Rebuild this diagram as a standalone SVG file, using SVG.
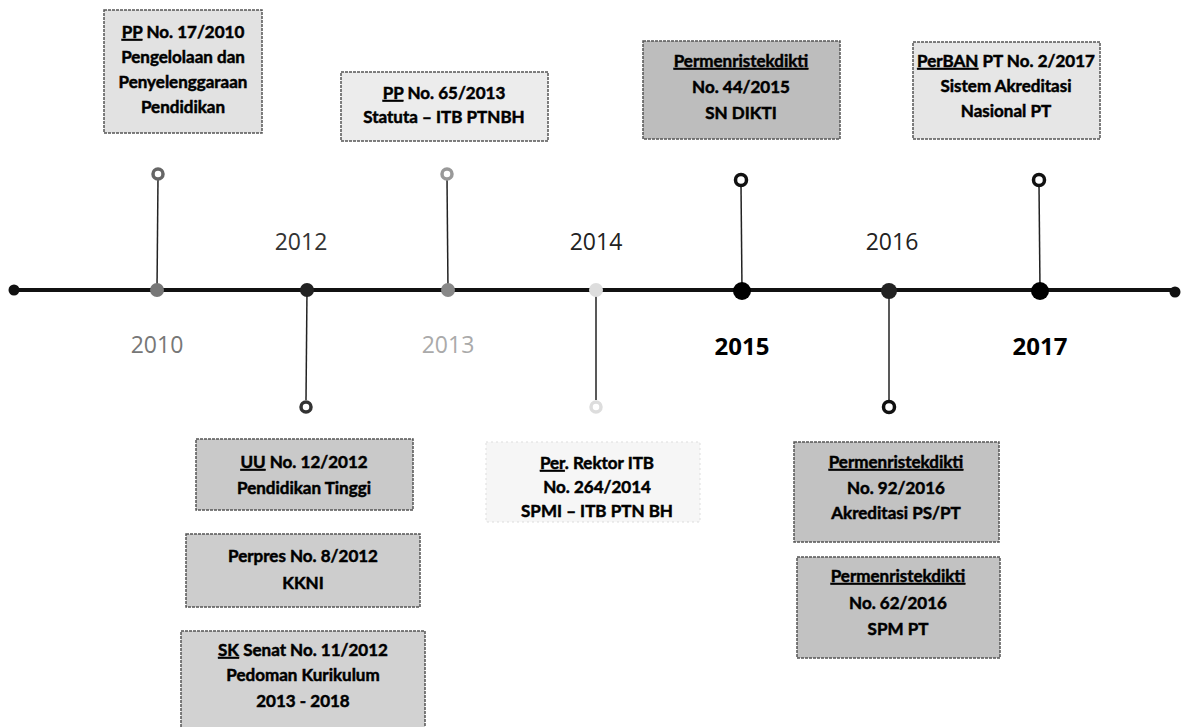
<svg xmlns="http://www.w3.org/2000/svg" width="1181" height="727" viewBox="0 0 1181 727">
<style>
.box{stroke:#555;stroke-width:1.5;stroke-dasharray:3 1}
.t{font-family:Lato,"Liberation Sans",sans-serif;font-weight:bold;font-size:17px;fill:#000;stroke:#000;stroke-width:0.5;text-anchor:middle}
.u{text-decoration:underline}
.yr{font-family:"Open Sans","DejaVu Sans",sans-serif;font-size:23px;text-anchor:middle}
.yb{font-family:"Open Sans","DejaVu Sans",sans-serif;font-weight:bold;font-size:24px;text-anchor:middle;fill:#000}
.stem{stroke:#222;stroke-width:1.5}
.ring{fill:#fff;stroke-width:3.5}
</style>
<rect width="1181" height="727" fill="#fff"/>
<g id="connectors">
<line x1="14" y1="290" x2="1175" y2="290" stroke="#111" stroke-width="4"/>
<circle cx="14" cy="290" r="5.5" fill="#111"/>
<circle cx="1175" cy="292" r="5.5" fill="#111"/>
<line class="stem" x1="157" y1="290" x2="158" y2="178"/>
<line class="stem" x1="448" y1="290" x2="447" y2="178"/>
<line class="stem" x1="742" y1="290" x2="741" y2="185"/>
<line class="stem" x1="1040" y1="290" x2="1039" y2="185"/>
<line class="stem" x1="307" y1="290" x2="306" y2="400"/>
<line class="stem" x1="596" y1="290" x2="596" y2="400" stroke="#444"/>
<line class="stem" x1="889" y1="290" x2="889" y2="400"/>
<circle cx="157" cy="290" r="7" fill="#777"/>
<circle cx="307" cy="290" r="7" fill="#222"/>
<circle cx="448" cy="290" r="7" fill="#888"/>
<circle cx="596" cy="290" r="7" fill="#ddd"/>
<circle cx="742" cy="291" r="9" fill="#000"/>
<circle cx="889" cy="291" r="8" fill="#222"/>
<circle cx="1040" cy="291" r="9" fill="#000"/>
<circle class="ring" cx="158" cy="174" r="5" stroke="#666"/>
<circle class="ring" cx="447" cy="174" r="5" stroke="#999"/>
<circle class="ring" cx="741" cy="180" r="5.5" stroke="#111"/>
<circle class="ring" cx="1039" cy="180" r="5.5" stroke="#111"/>
<circle class="ring" cx="306" cy="407" r="5" stroke="#333"/>
<circle class="ring" cx="596" cy="407" r="5" stroke="#ddd"/>
<circle class="ring" cx="889" cy="407" r="5.5" stroke="#111"/>
</g>
<g id="years">
<text class="yr" x="301" y="250" fill="#333">2012</text>
<text class="yr" x="596" y="250" fill="#222">2014</text>
<text class="yr" x="892" y="250" fill="#222">2016</text>
<text class="yr" x="157" y="353" fill="#777">2010</text>
<text class="yr" x="448" y="353" fill="#aaa">2013</text>
<text class="yb" x="742" y="355">2015</text>
<text class="yb" x="1040" y="355">2017</text>
</g>
<g id="n-pp17">
<rect class="box" x="104" y="10" width="158" height="123" fill="#e2e2e2" stroke="#999"/>
<text class="t" x="183" y="38"><tspan class="u">PP</tspan> No. 17/2010</text>
<text class="t" x="183" y="63">Pengelolaan dan</text>
<text class="t" x="183" y="88">Penyelenggaraan</text>
<text class="t" x="183" y="113">Pendidikan</text>
</g>
<g id="n-pp65">
<rect class="box" x="341" y="72" width="207" height="69" fill="#ececec" stroke="#aaa"/>
<text class="t" x="444" y="99"><tspan class="u">PP</tspan> No. 65/2013</text>
<text class="t" x="444" y="123">Statuta – ITB PTNBH</text>
</g>
<g id="n-perm44">
<rect class="box" x="643" y="41" width="197" height="98" fill="#bdbdbd" stroke="#222"/>
<text class="t u" x="741" y="67">Permenristekdikti</text>
<text class="t" x="741" y="93">No. 44/2015</text>
<text class="t" x="741" y="119">SN DIKTI</text>
</g>
<g id="n-perban">
<rect class="box" x="913" y="42" width="187" height="97" fill="#e6e6e6" stroke="#999"/>
<text class="t" x="1006" y="67"><tspan class="u">PerBAN</tspan> PT No. 2/2017</text>
<text class="t" x="1006" y="92">Sistem  Akreditasi</text>
<text class="t" x="1006" y="117">Nasional PT</text>
</g>
<g id="n-uu12">
<rect class="box" x="196" y="439" width="217" height="71" fill="#c9c9c9" stroke="#444"/>
<text class="t" x="304" y="468"><tspan class="u">UU</tspan> No. 12/2012</text>
<text class="t" x="304" y="494">Pendidikan Tinggi</text>
</g>
<g id="n-perpres">
<rect class="box" x="186" y="534" width="234" height="73" fill="#cdcdcd" stroke="#555"/>
<text class="t" x="303" y="562">Perpres No. 8/2012</text>
<text class="t" x="303" y="589">KKNI</text>
</g>
<g id="n-sk11">
<rect class="box" x="181" y="631" width="244" height="100" fill="#d2d2d2" stroke="#555"/>
<text class="t" x="303" y="656"><tspan class="u">SK</tspan> Senat No. 11/2012</text>
<text class="t" x="303" y="681">Pedoman Kurikulum</text>
<text class="t" x="303" y="707">2013 - 2018</text>
</g>
<g id="n-rektor">
<rect x="486" y="442" width="214" height="80" fill="#f6f6f6" stroke="#ddd" stroke-width="1" stroke-dasharray="2 3"/>
<text class="t" x="597" y="469"><tspan class="u">Per</tspan>. Rektor ITB</text>
<text class="t" x="597" y="493">No. 264/2014</text>
<text class="t" x="597" y="517">SPMI – ITB PTN BH</text>
</g>
<g id="n-perm92">
<rect class="box" x="794" y="442" width="205" height="100" fill="#c2c2c2" stroke="#333"/>
<text class="t u" x="896" y="468">Permenristekdikti</text>
<text class="t" x="896" y="494">No. 92/2016</text>
<text class="t" x="896" y="519">Akreditasi PS/PT</text>
</g>
<g id="n-perm62">
<rect class="box" x="797" y="557" width="203" height="101" fill="#c2c2c2" stroke="#333"/>
<text class="t u" x="898" y="582">Permenristekdikti</text>
<text class="t" x="898" y="609">No. 62/2016</text>
<text class="t" x="898" y="635">SPM PT</text>
</g>
</svg>
